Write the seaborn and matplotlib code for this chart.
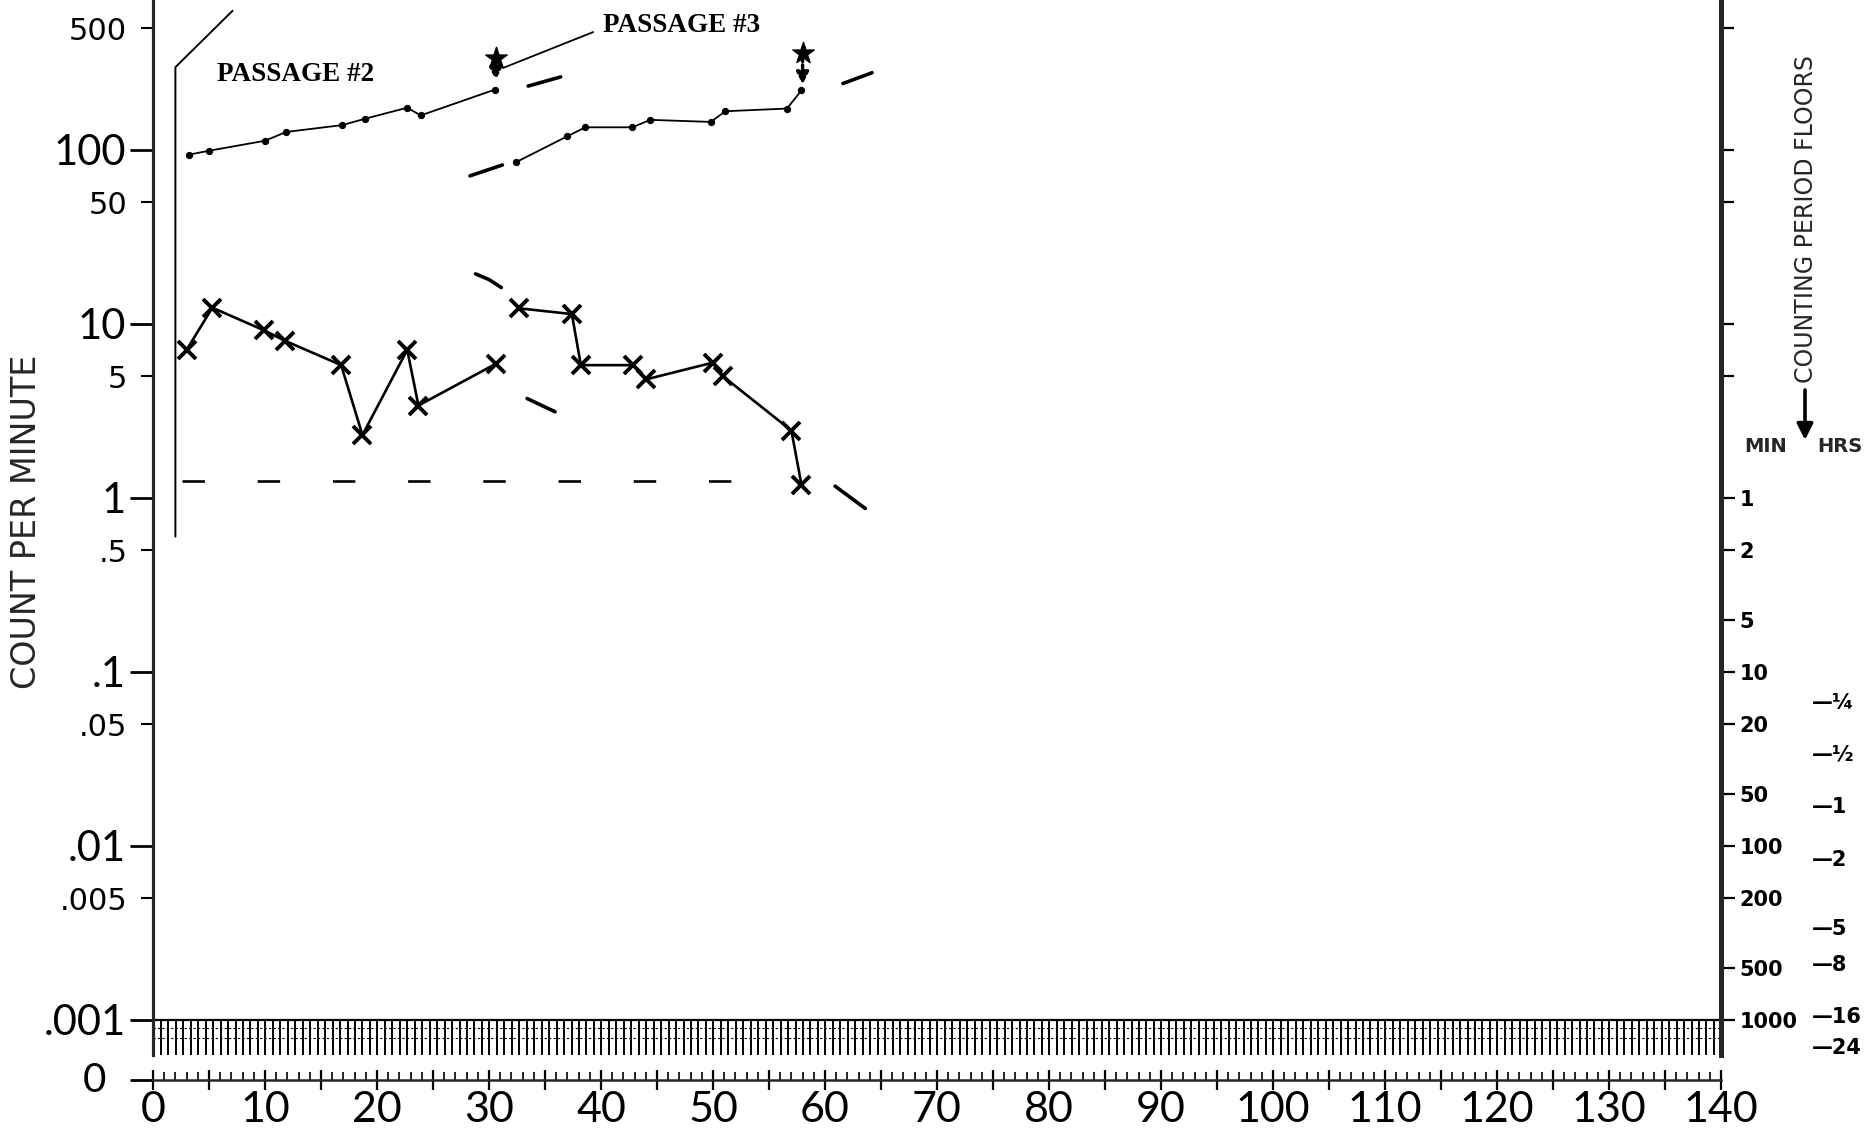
import numpy as np
import pandas as pd
import matplotlib
matplotlib.use("Agg")
import matplotlib.pyplot as plt
import seaborn as sns

# ---------------- data ----------------
p2_top_x = [3.2, 5.0, 10.0, 11.9, 16.9, 18.9, 22.7, 23.9, 30.5]
p2_top_y = [94, 99, 113, 127, 139, 151, 175, 158, 222]
p2_low_x = [3.0, 5.3, 9.9, 11.8, 16.8, 18.7, 22.7, 23.7, 30.6]
p2_low_y = [7.1, 12.4, 9.2, 8.0, 5.8, 2.3, 7.1, 3.4, 5.9]

p3_top_x = [32.4, 37.0, 38.6, 42.8, 44.4, 49.8, 51.1, 56.6, 57.9]
p3_top_y = [85, 120, 135, 135, 149, 145, 167, 173, 220]
p3_low_x = [32.7, 37.4, 38.2, 42.9, 44.0, 50.0, 50.9, 57.0, 57.9]
p3_low_y = [12.3, 11.4, 5.8, 5.8, 4.8, 6.0, 5.0, 2.44, 1.19]

# extrapolation dashes (end points)
upper_dash_x = [[28.3, 31.2], [33.5, 36.4], [61.6, 64.2]]
upper_dash_y = [[71, 82], [233, 263], [241, 278]]
lower_dash_x = [[28.8, 30.0, 31.1], [33.4, 35.9], [60.9, 63.6]]
lower_dash_y = [[19.4, 18.0, 16.2], [3.73, 3.13], [1.17, 0.87]]

# background floor (dashed)
floor_x = [2.6, 52.7]
floor_y = [1.25, 1.25]

# passage leader lines
p2_leader_x = [2.0, 2.0, 7.1]
p2_leader_y = [0.6, 299, 631]
p3_leader_x = [31.25, 39.3]
p3_leader_y = [296, 476]

# inoculation marks: star and arrow pointing down to the curve
mark_x = [30.6, 58.0]
mark_star_y = [338, 362]
mark_tip_y = [252, 238]

# axis ticks
y_major = [0.001, 0.01, 0.1, 1, 10, 100]
y_major_labels = [".001", ".01", ".1", "1", "10", "100"]
y_minor = [0.005, 0.05, 0.5, 5, 50, 500]
y_minor_labels = [".005", ".05", ".5", "5", "50", "500"]

min_periods = [1, 2, 5, 10, 20, 50, 100, 200, 500, 1000]
min_labels = ["1", "2", "5", "10", "20", "50", "100", "200", "500", "1000"]
hrs_periods = [0.25, 0.5, 1, 2, 5, 8, 16, 24]
hrs_labels = ["\u00bc", "\u00bd", "1", "2", "5", "8", "16", "24"]

# ---------------- figure ----------------
sns.set_theme(style="ticks")
plt.rcParams["font.family"] = ["DejaVu Sans"]

W, H = 1873, 1129
fig = plt.figure(figsize=(W / 100, H / 100), dpi=100)
fig.patch.set_facecolor("white")
ax = fig.add_axes([153 / W, 49 / H, (1721 - 153) / W, 1080 / H])
ax.set_facecolor("white")
ax.set_yscale("log")
YBOT, YTOP = 10 ** -3.345, 10 ** 2.862
ax.set_ylim(YBOT, YTOP)
ax.set_xlim(0, 140)

k = "black"
common = dict(ax=ax, color=k, sort=False, estimator=None, legend=False)

# count-rate curves
sns.lineplot(x=p2_top_x, y=p2_top_y, marker="o", markersize=4.5, mec=k, lw=1.3, **common)
sns.lineplot(x=p3_top_x, y=p3_top_y, marker="o", markersize=4.5, mec=k, lw=1.3, **common)
sns.lineplot(x=p2_low_x, y=p2_low_y, marker="x", markersize=13, mec=k, mew=2.8, lw=1.9, **common)
sns.lineplot(x=p3_low_x, y=p3_low_y, marker="x", markersize=13, mec=k, mew=2.8, lw=1.9, **common)

# extrapolation dashes
for xs, ys in zip(upper_dash_x, upper_dash_y):
    sns.lineplot(x=xs, y=ys, lw=2.6, **common)
for xs, ys in zip(lower_dash_x, lower_dash_y):
    sns.lineplot(x=xs, y=ys, lw=2.6, **common)

# floor line
sns.lineplot(x=floor_x, y=floor_y, lw=1.9, **common)
ax.lines[-1].set_dashes((8.5, 20))

# leaders
sns.lineplot(x=p2_leader_x, y=p2_leader_y, lw=1.4, **common)
sns.lineplot(x=p3_leader_x, y=p3_leader_y, lw=1.3, **common)

# inoculation marks
sns.scatterplot(x=mark_x, y=mark_star_y, marker="*", s=260, color=k,
                edgecolor=k, linewidth=1.0, ax=ax, legend=False, zorder=5)
for xa, yt, yb in zip(mark_x, mark_star_y, mark_tip_y):
    ax.annotate("", xy=(xa, yb), xytext=(xa, yt * 0.93),
                arrowprops=dict(arrowstyle="-|>", lw=2.4, color=k,
                                linestyle=(0, (1.0, 1.0)), mutation_scale=18,
                                shrinkA=0, shrinkB=0))

ax.text(5.7, 273, "PASSAGE #2", fontsize=19.5, family="Liberation Serif",
        weight="bold", va="center", ha="left", color=k)
ax.text(40.2, 516, "PASSAGE #3", fontsize=19.5, family="Liberation Serif",
        weight="bold", va="center", ha="left", color=k)

# hatched band between .001 and 0
band_x = np.arange(0.7, 140.01, 2 / 3)
band_bottom = 6.3e-4
ax.vlines(band_x, band_bottom, 1e-3, color=k, lw=1.4)
ax.hlines(1e-3, 0, 140, color=k, lw=1.6)
ax.hlines([9.0e-4, 7.9e-4], 0, 140, color=k, lw=0.8, linestyles=(0, (2, 2)))

# ---------------- axes styling ----------------
for s in ["top", "right"]:
    ax.spines[s].set_visible(False)
ax.spines["left"].set_linewidth(2.3)
ax.spines["left"].set_bounds(band_bottom, YTOP)
ax.spines["bottom"].set_linewidth(1.8)

ax.set_yticks(y_major + [YBOT], y_major_labels + [""])
ax.set_yticks(y_minor, y_minor_labels, minor=True)
ax.tick_params(axis="y", which="major", length=16.5, width=2.0, pad=3,
               labelsize=30, direction="out", colors=k)
ax.tick_params(axis="y", which="minor", length=8.5, width=1.5, pad=10,
               labelsize=22, direction="out", colors=k)
for lab in ax.get_yticklabels():
    lab.set_family(["Lato", "DejaVu Sans"])
for lab in ax.get_yticklabels(minor=True):
    lab.set_family(["DejaVu Sans"])
ax.text(-0.030, YBOT, "0", transform=ax.get_yaxis_transform(), ha="right",
        va="center", fontsize=29, family=["Lato", "DejaVu Sans"], color=k)

ax.set_xticks(list(range(0, 141, 5)),
              [str(v) if v % 10 == 0 else "" for v in range(0, 141, 5)])
ax.set_xticks(list(range(0, 141, 1)), minor=True)
ax.tick_params(axis="x", which="major", length=14, width=1.6, direction="inout",
               labelsize=31, pad=1, colors=k)
ax.tick_params(axis="x", which="minor", length=5.5, width=1.2, direction="in",
               colors=k)
for lab in ax.get_xticklabels():
    lab.set_family(["Lato", "DejaVu Sans"])
ax.grid(False)

# right axis : counting period floors
ax2 = ax.twinx()
ax2.set_yscale("log")
ax2.set_ylim(YBOT, YTOP)
for s in ["top", "left", "bottom"]:
    ax2.spines[s].set_visible(False)
ax2.spines["right"].set_linewidth(3.6)
ax2.spines["right"].set_bounds(band_bottom, YTOP)
ax2.set_yticks([1 / m for m in min_periods], min_labels)
ax2.set_yticks(y_minor[3:] + [10, 100], [""] * 5, minor=True)
ax2.tick_params(axis="y", which="major", length=10, width=1.6, pad=3.5,
                labelsize=15, direction="out", colors=k)
ax2.tick_params(axis="y", which="minor", length=9, width=1.6,
                direction="out", colors=k)
for lab in ax2.get_yticklabels():
    lab.set_weight("bold")
ax2.grid(False)

tr = ax2.get_yaxis_transform()
for h, lab in zip(hrs_periods, hrs_labels):
    ax2.text(1.058, 1 / (60 * h), "\u2014" + lab, transform=tr, ha="left",
             va="center", fontsize=15, weight="bold", color=k)

fig.text(1766 / W, 1 - 447 / H, "MIN", ha="center", va="center",
         fontsize=14, weight="bold")
fig.text(1840 / W, 1 - 447 / H, "HRS", ha="center", va="center",
         fontsize=14, weight="bold")
fig.text(1806 / W, 1 - 219 / H, "COUNTING PERIOD FLOORS", rotation=90,
         ha="center", va="center", fontsize=17)
ax.annotate("", xy=(1805 / W, 1 - 440 / H), xytext=(1805 / W, 1 - 390 / H),
            xycoords="figure fraction", textcoords="figure fraction",
            arrowprops=dict(arrowstyle="-|>", lw=2.6, color=k,
                            mutation_scale=24, shrinkA=0, shrinkB=0))

fig.text(27 / W, 1 - 522 / H, "COUNT PER MINUTE", rotation=90, ha="center",
         va="center", fontsize=24)

fig.savefig("out.png", dpi=100, facecolor="white")
